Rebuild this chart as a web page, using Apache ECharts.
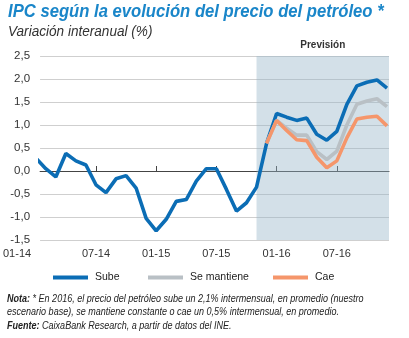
<!DOCTYPE html>
<html>
<head>
<meta charset="utf-8">
<script src="https://cdn.jsdelivr.net/npm/echarts@6/dist/echarts.min.js"></script>
<style>
  html, body { margin: 0; padding: 0; background: #fff; }
  #chart { width: 409px; height: 338px; }
</style>
</head>
<body>
<div id="chart"></div>
<script>
// Monthly categories, Jan 2014 – Dec 2016 (MM-YY); month index = position in this list
const months = [
  '01-14','02-14','03-14','04-14','05-14','06-14','07-14','08-14','09-14','10-14','11-14','12-14',
  '01-15','02-15','03-15','04-15','05-15','06-15','07-15','08-15','09-15','10-15','11-15','12-15',
  '01-16','02-16','03-16','04-16','05-16','06-16','07-16','08-16','09-16','10-16','11-16','12-16'
];

// Oil price rises (base scenario): observed CPI up to Nov-15, forecast afterwards
const sube = [
  0.28, 0.05, -0.13, 0.38, 0.22, 0.13, -0.3, -0.47, -0.17, -0.1, -0.37, -1.03,
  -1.3, -1.05, -0.66, -0.62, -0.22, 0.05, 0.05, -0.4, -0.87, -0.69, -0.35, 0.6,
  1.25, 1.17, 1.1, 1.15, 0.8, 0.67, 0.86, 1.45, 1.85, 1.93, 1.98, 1.8
];

// Oil price stays constant (forecast only)
const seMantiene = [
  null, null, null, null, null, null, null, null, null, null, null, null,
  null, null, null, null, null, null, null, null, null, null, null, 0.6,
  1.1, 0.93, 0.78, 0.78, 0.42, 0.25, 0.43, 1.0, 1.45, 1.52, 1.57, 1.4
];

// Oil price falls (forecast only)
const cae = [
  null, null, null, null, null, null, null, null, null, null, null, null,
  null, null, null, null, null, null, null, null, null, null, null, 0.6,
  1.1, 0.88, 0.68, 0.66, 0.3, 0.07, 0.22, 0.72, 1.13, 1.17, 1.19, 0.98
];

// Tick labels on the time axis (month indices)
const xLabelIdx = [0, 6, 12, 18, 24, 30];
const yTicks = { min: -1.5, max: 2.5, step: 0.5 };
// Visible time window in month-index units and the forecast band start (Nov-15)
const xRange = { min: 0.43, max: 35.2 };
const forecastStart = 22;
const seriesNames = ['Sube', 'Se mantiene', 'Cae'];

const FONT = "'Liberation Sans', Arial, sans-serif";
const BLUE = '#0b6db5';
const GREY = '#b9c0c5';
const ORANGE = '#f5966b';

const toPairs = arr => arr.map((v, i) => [i, v]);

const chart = echarts.init(document.getElementById('chart'), null, { renderer: 'canvas' });

// one legend block per series so each sits at its own x position
const legendLefts = [48, 143, 268];
const legends = seriesNames.map((name, i) => ({
  left: legendLefts[i], top: 267,
  itemWidth: 35, itemHeight: 4, itemGap: 0,
  icon: 'rect',
  textStyle: { fontFamily: FONT, fontSize: 10.5, color: '#222', padding: [0, 0, 0, 2] },
  data: [name]
}));

// first label is nudged left of the axis start
const labelValues = xLabelIdx.map(i => Math.max(i, xRange.min));
const labelFormatter = v => {
  const name = months[Math.round(v)];
  return Math.round(v) === 0 ? '{first|' + name + '}' : name;
};

const option = {
  animation: false,
  backgroundColor: '#ffffff',
  textStyle: { fontFamily: FONT },
  grid: { left: 32, right: 20, top: 56, bottom: 98 },
  legend: legends,
  xAxis: [
    {
      // time axis carrying the data and the bottom labels
      type: 'value', min: xRange.min, max: xRange.max, position: 'bottom',
      axisLine: { show: false, onZero: false }, axisTick: { show: false },
      axisLabel: {
        customValues: labelValues,
        color: '#333', fontSize: 11, fontFamily: FONT, margin: 8,
        formatter: labelFormatter,
        rich: { first: { padding: [0, 46, 0, 0], fontSize: 11, fontFamily: FONT, color: '#333' } }
      },
      splitLine: { show: false }
    },
    {
      // zero line with small upward ticks
      type: 'value', min: xRange.min, max: xRange.max, position: 'bottom',
      axisLine: { show: true, onZero: true, lineStyle: { color: '#444', width: 1 } },
      axisTick: {
        show: true, inside: true, length: 5,
        customValues: xLabelIdx.filter(i => i > xRange.min),
        lineStyle: { color: '#444' }
      },
      axisLabel: { show: false },
      splitLine: { show: false }
    }
  ],
  yAxis: {
    type: 'value', min: yTicks.min, max: yTicks.max, interval: yTicks.step,
    axisLine: { show: false }, axisTick: { show: false },
    axisLabel: {
      color: '#333', fontSize: 11.5, fontFamily: FONT, margin: 10,
      formatter: v => v.toFixed(1).replace('.', ',')
    },
    splitLine: { lineStyle: { color: '#cfcfcf', width: 1 } }
  },
  series: [
    {
      name: 'Sube', type: 'line', data: toPairs(sube), xAxisIndex: 0,
      symbol: 'none', lineStyle: { color: BLUE, width: 3.6 }, itemStyle: { color: BLUE },
      z: 3,
      markArea: {
        silent: true,
        itemStyle: { color: 'rgba(150,180,200,0.42)' },
        label: {
          show: true, position: 'top', distance: 6,
          color: '#333', fontSize: 10, fontWeight: 'bold', fontFamily: FONT
        },
        data: [[{ name: 'Previsión', xAxis: forecastStart }, { xAxis: xRange.max }]]
      }
    },
    {
      name: 'Se mantiene', type: 'line', data: toPairs(seMantiene), xAxisIndex: 0,
      symbol: 'none', lineStyle: { color: GREY, width: 3.6 }, itemStyle: { color: GREY },
      z: 4
    },
    {
      name: 'Cae', type: 'line', data: toPairs(cae), xAxisIndex: 0,
      symbol: 'none', lineStyle: { color: ORANGE, width: 3.6 }, itemStyle: { color: ORANGE },
      z: 5
    }
  ],
  graphic: [
    {
      // chart title (horizontally condensed)
      type: 'text', x: 8, y: 2, scaleX: 0.9, originX: 0, originY: 0,
      style: {
        text: 'IPC según la evolución del precio del petróleo *',
        font: 'italic bold 18.5px ' + FONT,
        fill: '#1a86c9', verticalAlign: 'top', align: 'left'
      }
    },
    {
      type: 'text', x: 8, y: 25, scaleX: 0.97, originX: 0, originY: 0,
      style: {
        text: 'Variación interanual (%)',
        font: 'italic 14px ' + FONT,
        fill: '#333', verticalAlign: 'top', align: 'left'
      }
    },
    {
      // footnote and source
      type: 'text', x: 7, y: 292, scaleX: 0.82, originX: 0, originY: 0,
      style: {
        text: '{b|Nota:} * En 2016, el precio del petróleo sube un 2,1% intermensual, en promedio (nuestro\n' +
              'escenario base), se mantiene constante o cae un 0,5% intermensual, en promedio.\n' +
              '{b|Fuente:} CaixaBank Research, a partir de datos del INE.',
        font: 'italic 11px ' + FONT,
        fill: '#222',
        lineHeight: 13.5,
        verticalAlign: 'top', align: 'left',
        rich: {
          b: { fontWeight: 'bold', fontStyle: 'italic', fontSize: 11, fontFamily: FONT, fill: '#222', lineHeight: 13.5 }
        }
      }
    }
  ]
};

chart.setOption(option);
</script>
</body>
</html>
